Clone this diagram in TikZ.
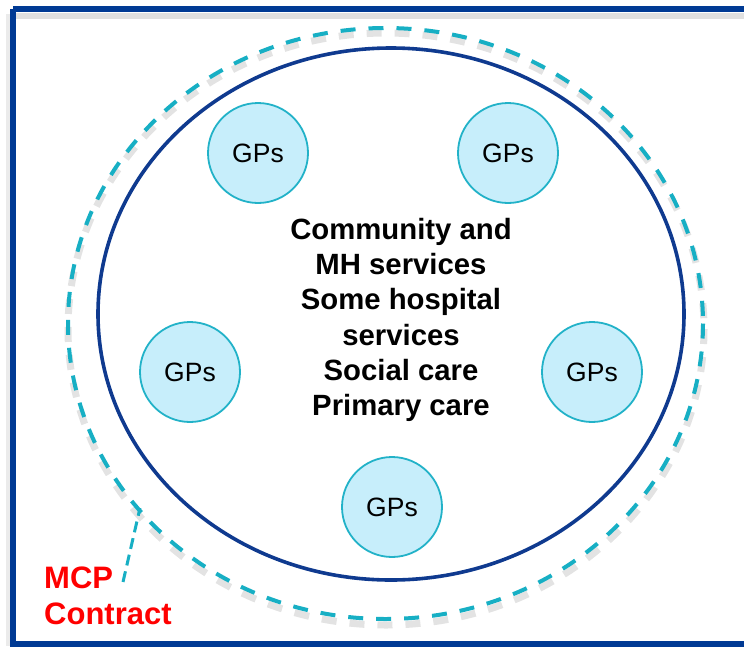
\documentclass[tikz,border=0pt]{standalone}
\usepackage{fontspec}
\setmainfont{Liberation Sans}
\begin{document}
\begin{tikzpicture}[x=1pt,y=-1pt,
  frameline/.style={draw=frameblue,line width=5.5pt},
  gp/.style={circle,draw=gpedge,line width=1.8pt,fill=gpfill,minimum size=100pt,inner sep=0pt,font=\fontsize{26.5}{30}\selectfont},
  gpshadow/.style={circle,fill=black!15,opacity=0.5,minimum size=102pt,inner sep=0pt},
  dashline/.style={draw=tealc,line width=4pt,dash pattern=on 15pt off 13pt},
  shadowline/.style={draw=black!22,line width=7pt,opacity=0.5}
]
\definecolor{frameblue}{HTML}{003A94}
\definecolor{innerblue}{HTML}{0F3A8F}
\definecolor{tealc}{HTML}{17AFC4}
\definecolor{gpfill}{HTML}{C7EEFB}
\definecolor{gpedge}{HTML}{22B2C8}
\useasboundingbox (0,0) rectangle (744,646);
% frame shadow
\fill[black!8] (6,14) rectangle (13,646);
\fill[black!12] (16,13) rectangle (760,19);
\draw[frameline] (13,9) -- (760,9);
\draw[frameline] (13,9) -- (13,660);
\draw[frameline] (13,644) -- (760,644);
% dashed ellipse with shadow
\draw[shadowline,dash pattern=on 15pt off 13pt] (386,329) ellipse [x radius=318,y radius=296];
\draw[dashline] (385.5,323.5) ellipse [x radius=317.5,y radius=295.5];
% inner ellipse
\draw[draw=innerblue,line width=3.6pt] (391,314) ellipse [x radius=293,y radius=266];
% GPs
\node[gp] (gp1) at (258,153) {GPs};
\node[gp] (gp2) at (508,153) {GPs};
\node[gp] (gp3) at (190,372) {GPs};
\node[gp] (gp4) at (592,372) {GPs};
\node[gp] (gp5) at (392,507) {GPs};
% center text
\node[align=center,font=\fontsize{29.3}{35.2}\selectfont\bfseries] (svc) at (401,320)
  {Community and\\MH services\\Some hospital\\services\\Social care\\Primary care};
% MCP label
\node[align=left,anchor=west,text=red,font=\fontsize{31}{36}\selectfont\bfseries,inner sep=0pt] (mcp) at (44,596) {MCP\\Contract};
\coordinate (foot) at (123,582);
\coordinate (tip) at (140,508);
\draw[draw=tealc,line width=3pt,dash pattern=on 11pt off 6pt] (foot) -- (tip);
\end{tikzpicture}
\end{document}
